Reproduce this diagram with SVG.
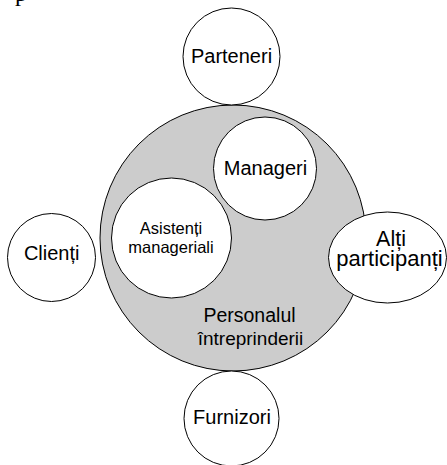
<svg xmlns="http://www.w3.org/2000/svg" width="447" height="465" viewBox="0 0 447 465">
<style>
.n{fill:#fff;stroke:#000;stroke-width:1}
.big{fill:#cccccc;stroke:#000;stroke-width:1}
text{font-family:"Liberation Sans",Arial,sans-serif;fill:#000;text-anchor:middle}
</style>
<rect width="447" height="465" fill="#fff"/>
<text x="21" y="0.8" style="font-family:'Liberation Serif',serif;font-size:24px">p</text>
<g id="personal">
<circle class="big" cx="233" cy="238" r="133"/>
<text x="249.5" y="322" font-size="19.5">Personalul</text>
<text x="250.5" y="345" font-size="19">întreprinderii</text>
</g>
<g id="connectors"></g>
<g id="parteneri">
<circle class="n" cx="231.5" cy="56.5" r="48.5"/>
<text x="231.5" y="63" font-size="20">Parteneri</text>
</g>
<g id="manageri">
<circle class="n" cx="265" cy="168.5" r="51.5"/>
<text x="265.5" y="174.5" font-size="20">Manageri</text>
</g>
<g id="asistenti">
<circle class="n" cx="171.5" cy="238" r="60"/>
<text x="171" y="233.5" font-size="16.5">Asistenți</text>
<text x="171" y="253" font-size="16.5">manageriali</text>
</g>
<g id="clienti">
<circle class="n" cx="51.5" cy="257.5" r="44"/>
<text x="51.7" y="259.5" font-size="20">Clienți</text>
</g>
<g id="alti">
<ellipse class="n" cx="387.5" cy="257.5" rx="59" ry="45.5"/>
<text x="391" y="246" font-size="21.5">Alți</text>
<text x="389.5" y="266" font-size="22">participanți</text>
</g>
<g id="furnizori">
<circle class="n" cx="231.5" cy="418.5" r="47.5"/>
<text x="232" y="423.5" font-size="20">Furnizori</text>
</g>
</svg>
